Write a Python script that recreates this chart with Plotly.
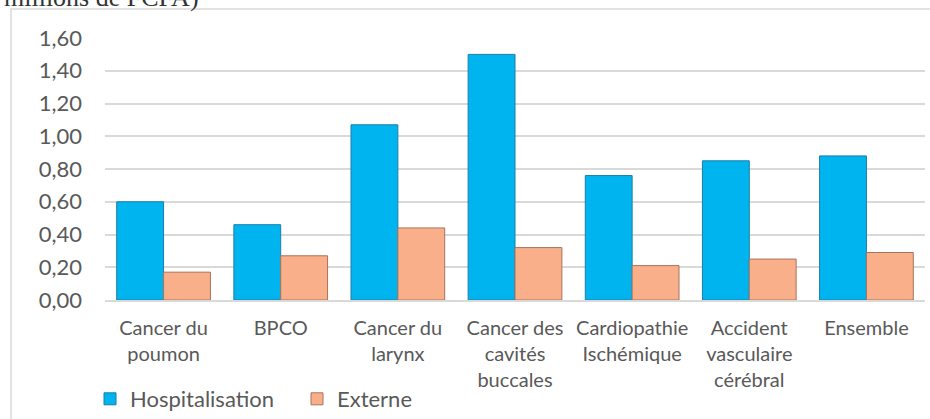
import plotly.graph_objects as go

categories = ["Cancer du<br>poumon", "BPCO", "Cancer du<br>larynx", "Cancer des<br>cavités<br>buccales",
              "Cardiopathie<br>Ischémique", "Accident<br>vasculaire<br>cérébral", "Ensemble"]
hospitalisation = [0.60, 0.46, 1.07, 1.50, 0.76, 0.85, 0.88]
externe = [0.17, 0.27, 0.44, 0.32, 0.21, 0.25, 0.29]
y_ticks = [0, 0.2, 0.4, 0.6, 0.8, 1.0, 1.2, 1.4, 1.6]
y_tick_labels = ["0,00", "0,20", "0,40", "0,60", "0,80", "1,00", "1,20", "1,40", "1,60"]

W, H = 930, 419
L, R, T, B = 105, 5, 38, 119
pw, ph = W - L - R, H - T - B

def px_x(x):
    return (x - L) / pw

def px_y(y):
    return (H - B - y) / ph

txt = "#595959"
font = "Lato, 'Open Sans', sans-serif"

fig = go.Figure()
fig.add_trace(go.Bar(name="Hospitalisation", x=categories, y=hospitalisation,
                     marker=dict(color="#00B4EF", line=dict(color="#1A7FA8", width=1))))
fig.add_trace(go.Bar(name="Externe", x=categories, y=externe,
                     marker=dict(color="#F9B08A", line=dict(color="#A8735A", width=1))))

fig.update_layout(
    width=W, height=H, autosize=False,
    margin=dict(l=L, r=R, t=T, b=B, pad=0, autoexpand=False),
    paper_bgcolor="white", plot_bgcolor="white",
    barmode="group", bargap=0.2, bargroupgap=0,
    font=dict(family=font, size=20, color=txt),
    showlegend=True,
    legend=dict(orientation="h", x=px_x(90), xanchor="left", y=px_y(378), yanchor="top",
                font=dict(size=22, color=txt), entrywidth=162, entrywidthmode="pixels",
                itemclick=False, bgcolor="rgba(0,0,0,0)"),
    xaxis=dict(showgrid=False, showline=True, linecolor="#D9D9D9", linewidth=1.5,
               ticks="", tickfont=dict(size=20, color=txt), fixedrange=True,
               automargin=False, ticklabelstandoff=9),
    yaxis=dict(range=[0, 1.6], tickvals=y_ticks, ticktext=y_tick_labels,
               showgrid=True, gridcolor="#D9D9D9", gridwidth=1.5, zeroline=False,
               showline=False, ticks="", ticklabelstandoff=22, automargin=False,
               tickfont=dict(size=22, color=txt), fixedrange=True),
    shapes=[dict(type="rect", xref="paper", yref="paper",
                 x0=px_x(11), x1=px_x(940), y0=px_y(430), y1=px_y(9),
                 line=dict(color="#D9D9D9", width=1.5), fillcolor="rgba(0,0,0,0)", layer="below")],
    annotations=[dict(text="millions de FCFA)", xref="paper", yref="paper",
                      x=px_x(2), y=px_y(14), xanchor="left", yanchor="bottom",
                      showarrow=False, font=dict(family="'Liberation Serif', serif", size=26, color="#333333"))],
)

fig.write_html("out.html", config={"responsive": False, "displayModeBar": False},
               post_script="document.body.style.margin='0';document.body.style.overflow='hidden';")
